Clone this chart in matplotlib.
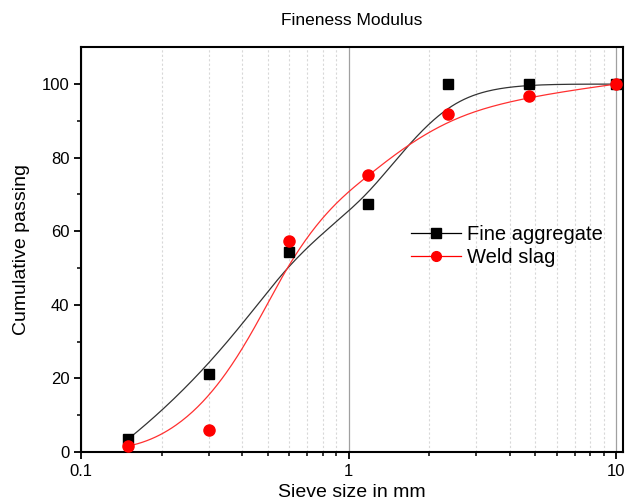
import numpy as np
import matplotlib
matplotlib.use("Agg")
import matplotlib.pyplot as plt
from matplotlib.ticker import LogLocator, FixedLocator, NullFormatter, FuncFormatter

plt.rcParams['font.family'] = ['Liberation Sans', 'DejaVu Sans']

# Sieve sizes (mm) and cumulative passing (%)
sieve_mm = [0.15, 0.3, 0.6, 1.18, 2.36, 4.75, 10.0]
fine_aggregate = [3.5, 21.2, 54.4, 67.4, 100.0, 100.0, 100.0]
weld_slag = [1.6, 6.0, 57.4, 75.3, 92.0, 96.8, 100.0]


def bspline(xs, ys, n=400, k=3):
    """Clamped cubic B-spline using the data points as control points
    (built in log10(x) space so it looks smooth on a log axis)."""
    P = np.column_stack([np.log10(xs), ys])
    m = len(P)
    inner = np.arange(1, m - k)
    knots = np.concatenate([np.zeros(k + 1), inner, np.full(k + 1, m - k)]).astype(float)
    ts = np.linspace(0, m - k, n)
    out = []
    for t in ts:
        if t >= knots[-1]:
            s = m - 1
        else:
            s = np.searchsorted(knots, t, side='right') - 1
        d = [P[j].copy() for j in range(s - k, s + 1)]
        for r in range(1, k + 1):
            for j in range(k, r - 1, -1):
                i = j + s - k
                denom = knots[i + k - r + 1] - knots[i]
                a = 0.0 if denom == 0 else (t - knots[i]) / denom
                d[j] = (1 - a) * d[j - 1] + a * d[j]
        out.append(d[k])
    out = np.array(out)
    return 10 ** out[:, 0], out[:, 1]


fig = plt.figure(figsize=(6.29, 5.01), dpi=100)
ax = fig.add_axes([0.129, 0.098, 0.861, 0.8075])

fx, fy = bspline(sieve_mm, fine_aggregate)
wx, wy = bspline(sieve_mm, weld_slag)

ax.plot(fx, fy, color='#333333', lw=0.9, zorder=3)
ax.plot(wx, wy, color='#ff3030', lw=0.9, zorder=3)
ax.plot(sieve_mm, fine_aggregate, 's', color='black', ms=7, zorder=4)
ax.plot(sieve_mm, weld_slag, 'o', color='#ff0000', ms=8, zorder=5)

# legend entries: line with marker
h1, = ax.plot([], [], '-s', color='black', lw=0.9, ms=7)
h2, = ax.plot([], [], '-o', color='#ff0000', lw=0.9, ms=7)
ax.legend([h1, h2], ['Fine aggregate', 'Weld slag'], loc='upper left',
          bbox_to_anchor=(0.59, 0.585), frameon=False, fontsize=14.5,
          handlelength=2.5, handletextpad=0.3, labelspacing=0.2, borderpad=0)

ax.set_xscale('log')
ax.set_xlim(0.1, 10.6)
ax.set_ylim(0, 110)

ax.xaxis.set_major_locator(FixedLocator([0.1, 1, 10]))
ax.xaxis.set_major_formatter(FuncFormatter(lambda v, p: {0.1: '0.1', 1: '1', 10: '10'}.get(round(v, 3), '')))
ax.xaxis.set_minor_locator(LogLocator(base=10, subs=np.arange(2, 10)))
ax.xaxis.set_minor_formatter(NullFormatter())
ax.set_yticks([0, 20, 40, 60, 80, 100])
ax.set_yticks([10, 30, 50, 70, 90], minor=True)

ax.grid(True, which='minor', axis='x', color='#d8d8d8', ls=(0, (2, 2)), lw=0.8)
ax.grid(True, which='major', axis='x', color='#a0a0a0', ls='-', lw=0.9)
ax.set_axisbelow(True)

for sp in ax.spines.values():
    sp.set_linewidth(1.5)
ax.tick_params(which='major', direction='out', length=5, width=1.3, labelsize=12, colors='black')
ax.tick_params(which='minor', direction='out', length=3, width=1.1)

ax.set_title('Fineness Modulus', fontsize=12.5, pad=16)
ax.set_xlabel('Sieve size in mm', fontsize=14, labelpad=4)
ax.set_ylabel('Cumulative passing', fontsize=14, labelpad=8)

fig.savefig('out.png', dpi=100)
